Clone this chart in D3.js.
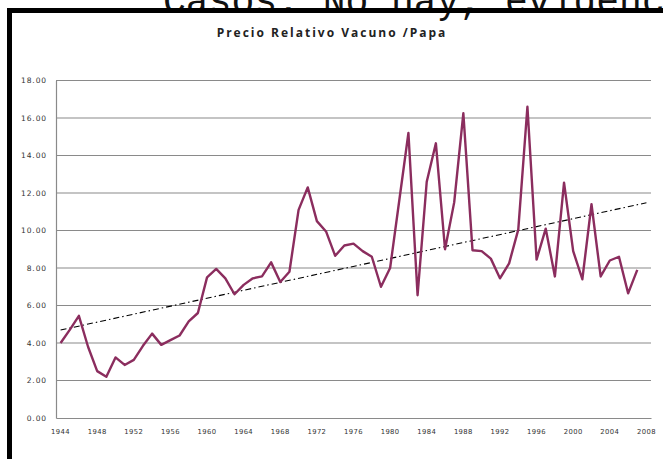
<!DOCTYPE html>
<html>
<head>
<meta charset="utf-8">
<script src="https://cdn.jsdelivr.net/npm/d3@7"></script>
<style>
  html, body { margin: 0; padding: 0; background: #fff; }
  svg { display: block; }
</style>
</head>
<body>
<svg id="chart" width="663" height="459"></svg>
<script>
const categories = [1944,1945,1946,1947,1948,1949,1950,1951,1952,1953,1954,1955,1956,1957,1958,1959,
  1960,1961,1962,1963,1964,1965,1966,1967,1968,1969,1970,1971,1972,1973,1974,1975,1976,1977,1978,1979,
  1980,1981,1982,1983,1984,1985,1986,1987,1988,1989,1990,1991,1992,1993,1994,1995,1996,1997,1998,1999,
  2000,2001,2002,2003,2004,2005,2006,2007,2008];
const values = [4.0,4.7,5.45,3.8,2.5,2.2,3.23,2.83,3.1,3.85,4.5,3.9,4.15,4.4,5.15,5.6,
  7.5,7.95,7.45,6.6,7.1,7.45,7.55,8.3,7.25,7.8,11.1,12.3,10.5,9.95,8.65,9.2,9.3,8.9,8.6,7.0,
  8.0,11.6,15.2,6.55,12.6,14.65,9.0,11.5,16.25,8.95,8.9,8.5,7.45,8.25,10.05,16.6,8.45,10.1,7.55,12.55,
  8.9,7.4,11.4,7.55,8.4,8.6,6.65,7.9];
const trendYears = [1944, 2008];
const trendValues = [4.69, 11.48];
const yTicks = [0,2,4,6,8,10,12,14,16,18];
const xTickLabels = [1944,1948,1952,1956,1960,1964,1968,1972,1976,1980,1984,1988,1992,1996,2000,2004,2008];
const title = "Precio Relativo Vacuno /Papa";
const slideText = "Casos: No hay, evidenc";

(function () {
const svg = d3.select("#chart");

// slide background elements (photo of a slide, heading cut off at top)
svg.append("text")
  .attr("x", 163).attr("y", 13)
  .attr("font-family", "Liberation Mono, monospace")
  .attr("font-size", 38)
  .attr("fill", "#111")
  .text(slideText);
svg.append("rect").attr("x", 7).attr("y", 8).attr("width", 660).attr("height", 5).attr("fill", "#000");
svg.append("rect").attr("x", 7).attr("y", 8).attr("width", 5).attr("height", 460).attr("fill", "#000");

const mLeft = 56, mRight = 651, mTop = 80.5, mBottom = 418;

const x = d3.scaleBand().domain(categories).range([mLeft, mRight]);
const xc = d => x(d) + x.bandwidth() / 2;
const y = d3.scaleLinear().domain([0, 18]).range([mBottom, mTop]);

// gridlines
svg.append("g").selectAll("line").data(yTicks.filter(d => d > 0)).join("line")
  .attr("x1", mLeft).attr("x2", mRight)
  .attr("y1", d => y(d)).attr("y2", d => y(d))
  .attr("stroke", "#8a8a8a").attr("stroke-width", 1.2);

// y axis
const yAxis = svg.append("g").attr("transform", `translate(${mLeft},0)`)
  .call(d3.axisLeft(y).tickValues(yTicks).tickFormat(d3.format(".2f")).tickSize(0).tickPadding(9));
yAxis.select(".domain").attr("stroke", "#8a8a8a").attr("stroke-width", 1.2);
yAxis.selectAll("text")
  .attr("font-family", "DejaVu Sans, sans-serif").attr("font-size", 7.5)
  .attr("letter-spacing", 0.9).attr("fill", "#333");

// x axis
const xAxis = svg.append("g").attr("transform", `translate(0,${mBottom})`)
  .call(d3.axisBottom(x).tickValues(xTickLabels).tickSize(0).tickPadding(11));
xAxis.select(".domain").attr("stroke", "#8a8a8a").attr("stroke-width", 1.2);
xAxis.selectAll("text")
  .attr("font-family", "DejaVu Sans, sans-serif").attr("font-size", 6.8)
  .attr("letter-spacing", 0.4).attr("fill", "#333");

// trend line
svg.append("line")
  .attr("x1", xc(trendYears[0])).attr("y1", y(trendValues[0]))
  .attr("x2", xc(trendYears[1])).attr("y2", y(trendValues[1]))
  .attr("stroke", "#000").attr("stroke-width", 1.1)
  .attr("stroke-dasharray", "6,3,1.5,3");

// data line
const pts = values.map((v, i) => [categories[i], v]);
svg.append("path")
  .datum(pts)
  .attr("fill", "none")
  .attr("stroke", "#8b2d5e")
  .attr("stroke-width", 2.4)
  .attr("stroke-linejoin", "round")
  .attr("d", d3.line().x(d => xc(d[0])).y(d => y(d[1])));

// title
svg.append("text")
  .attr("x", 332).attr("y", 37)
  .attr("text-anchor", "middle")
  .attr("font-family", "Open Sans, sans-serif")
  .attr("font-weight", "bold")
  .attr("font-size", 12)
  .attr("letter-spacing", 2)
  .attr("fill", "#222")
  .text(title);
})();
</script>
</body>
</html>
